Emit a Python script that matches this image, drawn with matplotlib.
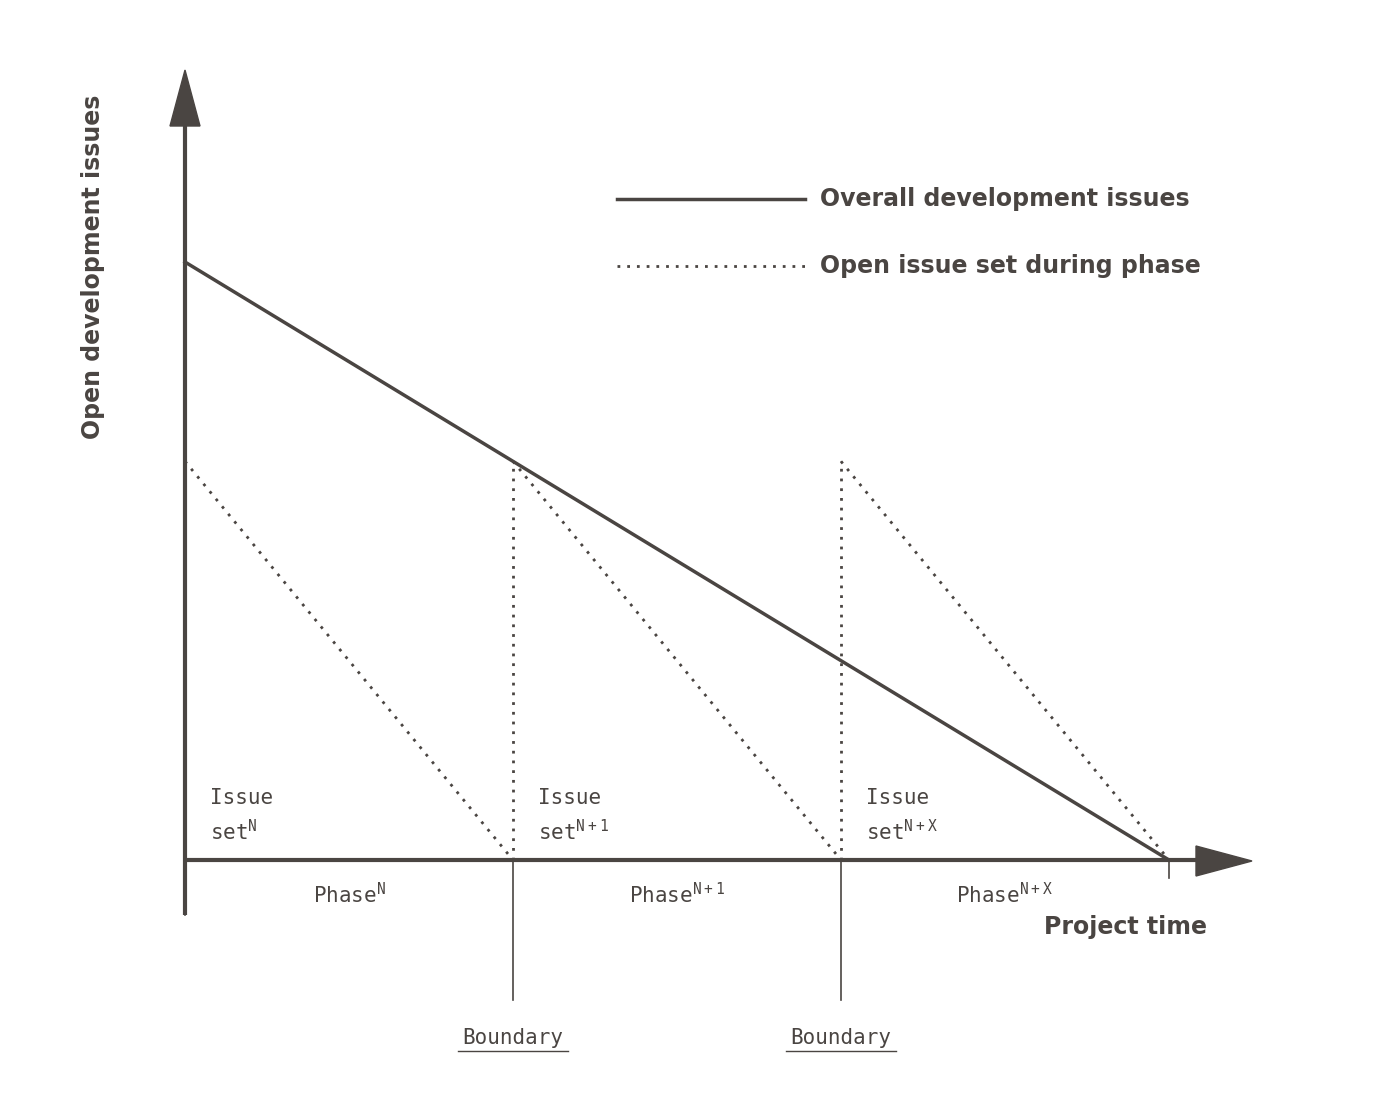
import matplotlib.pyplot as plt

# data: time measured in phases, issues relative to start of overall line
phase_bounds = [0, 1, 2, 3]
overall_t = [0, 3]
overall_v = [1.0, 0.0]
set_starts = [0, 1, 2]
set_height = 2 / 3
phase_names = ["Phase$^{\\mathtt{N}}$", "Phase$^{\\mathtt{N+1}}$", "Phase$^{\\mathtt{N+X}}$"]
set_names = ["Issue\nset$^{\\mathtt{N}}$", "Issue\nset$^{\\mathtt{N+1}}$", "Issue\nset$^{\\mathtt{N+X}}$"]

C = "#4a4542"
X0, XS = 185, 328   # pixel of t=0, pixels per phase
Y0, YS = 860, 598   # pixel of v=0, pixels per unit

def px(x):
    return (x - X0) / XS

def py(y):
    return (Y0 - y) / YS

fig = plt.figure(figsize=(14, 11.15), dpi=100)
ax = fig.add_axes([0, 0, 1, 1])
ax.set_xlim(px(0), px(1400))
ax.set_ylim(py(1115), py(0))
ax.axis("off")

mono = "DejaVu Sans Mono"

# axes with arrows
ax.plot([0, 0], [py(915), py(120)], color=C, lw=3, solid_capstyle="butt")
ax.fill([px(170), px(200), px(185)], [py(126), py(126), py(70)], color=C)
ax.plot([0, px(1200)], [0, 0], color=C, lw=3, solid_capstyle="butt")
ax.fill([px(1196), px(1196), px(1252)], [py(846), py(876), py(861)], color=C)

# boundary tick lines
for t, bot in zip(phase_bounds, [915, 1000, 1000, 878]):
    ax.plot([t, t], [0, py(bot)], color=C, lw=1.2)

# overall line
ax.plot(overall_t, overall_v, color=C, lw=2.5)

# open issue sets per phase
for s in set_starts:
    ax.plot([s, s + 1], [set_height, 0], color=C, lw=2, ls=(0, (1, 2.5)))
    if s > 0:
        ax.plot([s, s], [0, set_height], color=C, lw=2, ls=(0, (1, 2.5)))

# legend
ax.plot([px(617), px(805)], [py(199), py(199)], color=C, lw=2.5)
ax.plot([px(617), px(805)], [py(266), py(266)], color=C, lw=2, ls=(0, (1, 2.5)))
ax.text(px(820), py(199), "Overall development issues", color=C, fontsize=17,
        fontweight="bold", va="center")
ax.text(px(820), py(266), "Open issue set during phase", color=C, fontsize=17,
        fontweight="bold", va="center")

for s, name in zip(set_starts, set_names):
    ax.text(s + px(210), py(816), name, family=mono, fontsize=15, color=C,
            va="center", linespacing=1.5)

for i, name in enumerate(phase_names):
    ax.text(i + 0.5, py(895), name, family=mono, fontsize=15, color=C,
            ha="center", va="center")

for t in phase_bounds[1:3]:
    ax.text(t, py(1038), "Boundary", family=mono, fontsize=15, color=C,
            ha="center", va="center")
    ax.plot([t - px(240), t + px(240)], [py(1051), py(1051)], color=C, lw=1)

ax.text(px(1207), py(927), "Project time", color=C, fontsize=17,
        fontweight="bold", ha="right", va="center")
ax.text(px(93), py(267), "Open development issues", color=C, fontsize=17,
        fontweight="bold", rotation=90, ha="center", va="center")

fig.savefig("out.png", dpi=100, facecolor="white")
